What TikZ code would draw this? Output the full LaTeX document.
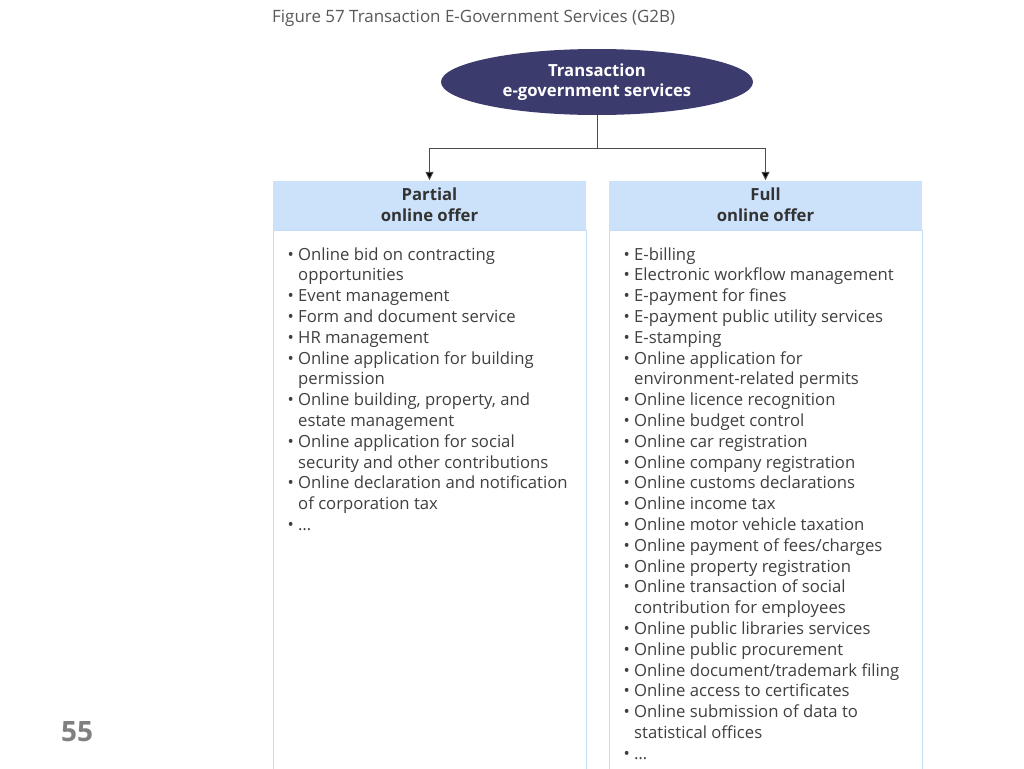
\documentclass[tikz,border=0pt]{standalone}
\usepackage{fontspec}
\setmainfont{Open Sans}
\usetikzlibrary{arrows.meta,shapes.geometric}
\definecolor{navy}{HTML}{3C3B6E}
\definecolor{headfill}{HTML}{CCE2FB}
\definecolor{boxedge}{HTML}{C5DCF7}
\definecolor{listgray}{HTML}{404040}
\definecolor{titlegray}{HTML}{595959}
\definecolor{pagegray}{HTML}{808080}
\newcommand{\ib}{\makebox[10.5pt][l]{\textbullet}}
\newcommand{\ic}{\hspace*{10.5pt}}
\newcommand{\listfont}{\fontsize{16.7}{20.8}\selectfont}
\tikzset{
  root/.style={ellipse, fill=navy, text=white, minimum width=312, minimum height=66,
    inner sep=0pt, align=center, font=\fontsize{16.7}{20.5}\selectfont\bfseries},
  head/.style={rectangle, fill=headfill, minimum width=313, minimum height=49,
    inner sep=0pt, align=center, text=black!80, font=\fontsize{16.7}{21}\selectfont\bfseries},
  body/.style={rectangle, draw=boxedge, line width=1pt, fill=white,
    minimum width=313, minimum height=560, inner sep=0pt},
  list/.style={anchor=base west, inner sep=0pt, text=listgray, font=\listfont},
  link/.style={draw=black!70, line width=0.9pt},
  arrow/.style={link, -{Triangle[width=8pt,length=8.5pt,fill=black]}}
}
\begin{document}
\begin{tikzpicture}[x=1pt,y=-1pt]
  \useasboundingbox (0,0) rectangle (1024,768);
  \fill[white] (0,0) rectangle (1024,768);
  \node[anchor=base west, inner sep=0pt, text=titlegray, font=\fontsize{16.95}{20}\selectfont]
    (title) at (272,22.7) {Figure 57 Transaction E-Government Services (G2B)};
  \node[root] (root) at (597,82) {Transaction\\e-government services};
  \node[body] (partialbody) at (429.5,510) {};
  \node[body] (fullbody) at (765.5,510) {};
  \node[head] (partial) at (429.5,205) {Partial\\online offer};
  \node[head] (full) at (765.5,205) {Full\\online offer};
  \coordinate (split) at (597,148);
  \draw[link] (root) -- (split);
  \draw[arrow] (split) -| (partial);
  \draw[arrow] (split) -| (full);
  \node[list] (partiallist) at (287.5,260) {\listfont\begin{tabular}[t]{@{}l@{}}
    \ib Online bid on contracting\\
    \ic opportunities\\
    \ib Event management\\
    \ib Form and document service\\
    \ib HR management\\
    \ib Online application for building\\
    \ic permission\\
    \ib Online building, property, and\\
    \ic estate management\\
    \ib Online application for social\\
    \ic security and other contributions\\
    \ib Online declaration and notification\\
    \ic of corporation tax\\
    \ib \dots
  \end{tabular}};
  \node[list] (fulllist) at (623.5,260) {\listfont\begin{tabular}[t]{@{}l@{}}
    \ib E-billing\\
    \ib Electronic workflow management\\
    \ib E-payment for fines\\
    \ib E-payment public utility services\\
    \ib E-stamping\\
    \ib Online application for\\
    \ic environment-related permits\\
    \ib Online licence recognition\\
    \ib Online budget control\\
    \ib Online car registration\\
    \ib Online company registration\\
    \ib Online customs declarations\\
    \ib Online income tax\\
    \ib Online motor vehicle taxation\\
    \ib Online payment of fees/charges\\
    \ib Online property registration\\
    \ib Online transaction of social\\
    \ic contribution for employees\\
    \ib Online public libraries services\\
    \ib Online public procurement\\
    \ib Online document/trademark filing\\
    \ib Online access to certificates\\
    \ib Online submission of data to\\
    \ic statistical offices\\
    \ib \dots
  \end{tabular}};
  \node[anchor=base west, inner sep=0pt, text=pagegray, font=\fontsize{28}{30}\selectfont\bfseries]
    (page) at (61,741) {55};
\end{tikzpicture}
\end{document}
